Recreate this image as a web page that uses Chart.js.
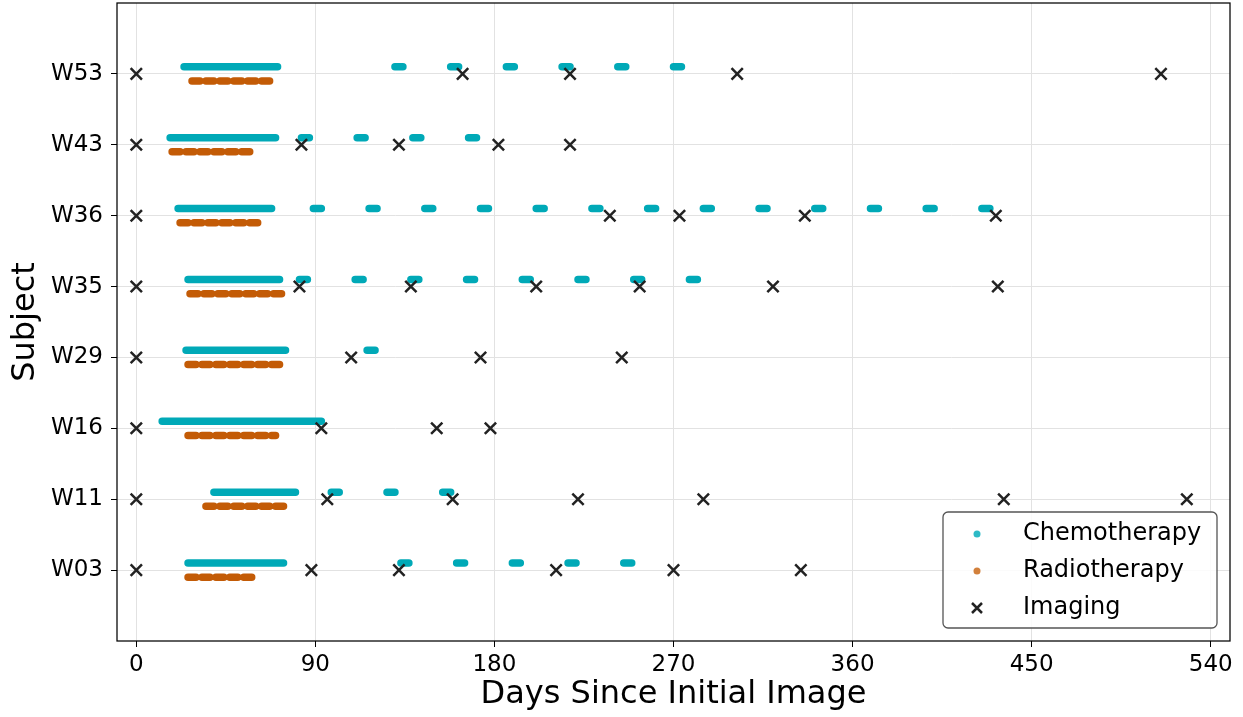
<!DOCTYPE html>
<html>
<head>
<meta charset="utf-8">
<script src="https://cdn.jsdelivr.net/npm/chart.js@4.4.1/dist/chart.umd.min.js"></script>
<style>
  body { margin: 0; background: #fff; }
  canvas { display: block; }
</style>
</head>
<body>
<canvas id="timeline" width="1243" height="717"></canvas>
<script>
// subjects, bottom to top
const subjects = ['W03', 'W11', 'W16', 'W29', 'W35', 'W36', 'W43', 'W53'];

// chemotherapy periods per subject, [first day, last day]
const chemoDays = [
    [[26, 74], [133, 137], [161, 165], [189, 193], [217, 221], [245, 249]],
    [[39, 80], [98, 102], [126, 130], [154, 158]],
    [[13, 93]],
    [[25, 75], [116, 120]],
    [[26, 72], [82, 86], [110, 114], [138, 142], [166, 170], [194, 198], [222, 226], [250, 254], [278, 282]],
    [[21, 68], [89, 93], [117, 121], [145, 149], [173, 177], [201, 205], [229, 233], [257, 261], [285, 289], [313, 317], [341, 345], [369, 373], [397, 401], [425, 429]],
    [[17, 70], [83, 87], [111, 115], [139, 143], [167, 171]],
    [[24, 71], [130, 134], [158, 162], [186, 190], [214, 218], [242, 246], [270, 274]]
];

// radiotherapy weeks per subject, [first day, last day]
const radioDays = [
    [[26, 30], [33, 37], [40, 44], [47, 51], [54, 58]],
    [[35, 39], [42, 46], [49, 53], [56, 60], [63, 67], [70, 74]],
    [[26, 30], [33, 37], [40, 44], [47, 51], [54, 58], [61, 65], [68, 70]],
    [[26, 30], [33, 37], [40, 44], [47, 51], [54, 58], [61, 65], [68, 72]],
    [[27, 31], [34, 38], [41, 45], [48, 52], [55, 59], [62, 66], [69, 73]],
    [[22, 26], [29, 33], [36, 40], [43, 47], [50, 54], [57, 61]],
    [[18, 22], [25, 29], [32, 36], [39, 43], [46, 50], [53, 57]],
    [[28, 32], [35, 39], [42, 46], [49, 53], [56, 60], [63, 67]]
];

// imaging days per subject
const imagingDays = [
    [0, 88, 132, 211, 270, 334],
    [0, 96, 159, 222, 285, 436, 528],
    [0, 93, 151, 178],
    [0, 108, 173, 244],
    [0, 82, 138, 201, 253, 320, 433],
    [0, 238, 273, 336, 432],
    [0, 83, 132, 182, 218],
    [0, 164, 218, 302, 515]
];

const xTicks = [0, 90, 180, 270, 360, 450, 540];

const CHEMO = '#00a9b7';
const RADIO = '#c35b06';
const FONT = 'DejaVu Sans';

// turn [start, end] periods into line pieces, broken by null points
function periodPoints(periods, shift) {
    const pts = [];
    periods.forEach((list, i) => {
        list.forEach(p => {
            pts.push({ x: p[0], y: i + shift });
            pts.push({ x: p[1], y: i + shift });
            pts.push({ x: p[1], y: null });
        });
    });
    return pts;
}

const imagingPoints = [];
imagingDays.forEach((list, i) => list.forEach(d => imagingPoints.push({ x: d, y: i })));

const framePlugin = {
    id: 'frame',
    afterDatasetsDraw(chart) {
        const a = chart.chartArea;
        const ctx = chart.ctx;
        ctx.save();
        ctx.strokeStyle = '#000';
        ctx.lineWidth = 1.25;
        ctx.strokeRect(a.left, a.top, a.right - a.left, a.bottom - a.top);
        ctx.restore();
    }
};

const legendPlugin = {
    id: 'boxLegend',
    afterDraw(chart) {
        const a = chart.chartArea;
        const ctx = chart.ctx;
        const w = 274, h = 116;
        const x = a.right - 13 - w, y = a.bottom - 13 - h;
        ctx.save();
        ctx.beginPath();
        ctx.roundRect(x, y, w, h, 5);
        ctx.fillStyle = 'rgba(255,255,255,0.85)';
        ctx.fill();
        ctx.strokeStyle = '#555';
        ctx.lineWidth = 1.3;
        ctx.stroke();

        const items = [
            { label: 'Chemotherapy', kind: 'dot', color: '#2dbac6' },
            { label: 'Radiotherapy', kind: 'dot', color: '#d2803c' },
            { label: 'Imaging', kind: 'x', color: '#222' }
        ];
        items.forEach((it, k) => {
            const cy = y + 22 + k * 37;
            const cx = x + 34;
            if (it.kind === 'dot') {
                ctx.beginPath();
                ctx.arc(cx, cy, 3.5, 0, Math.PI * 2);
                ctx.fillStyle = it.color;
                ctx.fill();
            } else {
                ctx.beginPath();
                ctx.moveTo(cx - 5, cy - 5); ctx.lineTo(cx + 5, cy + 5);
                ctx.moveTo(cx - 5, cy + 5); ctx.lineTo(cx + 5, cy - 5);
                ctx.strokeStyle = it.color;
                ctx.lineWidth = 2.5;
                ctx.stroke();
            }
            ctx.fillStyle = '#000';
            ctx.font = '24px "' + FONT + '"';
            ctx.textBaseline = 'middle';
            ctx.textAlign = 'left';
            ctx.fillText(it.label, x + 80, cy);
        });
        ctx.restore();
    }
};

new Chart(document.getElementById('timeline'), {
    type: 'scatter',
    data: {
        datasets: [
            {
                label: 'Imaging',
                data: imagingPoints,
                pointStyle: 'crossRot',
                pointRadius: 8,
                pointBorderWidth: 2.5,
                borderColor: '#222',
                backgroundColor: '#222',
                order: 0
            },
            {
                label: 'Radiotherapy',
                data: periodPoints(radioDays, -0.1),
                showLine: true,
                spanGaps: false,
                borderColor: RADIO,
                borderWidth: 7.5,
                borderCapStyle: 'round',
                pointRadius: 0,
                order: 1
            },
            {
                label: 'Chemotherapy',
                data: periodPoints(chemoDays, 0.1),
                showLine: true,
                spanGaps: false,
                borderColor: CHEMO,
                borderWidth: 7.5,
                borderCapStyle: 'round',
                pointRadius: 0,
                order: 2
            }
        ]
    },
    options: {
        responsive: false,
        animation: false,
        devicePixelRatio: 1,
        layout: { autoPadding: false, padding: { top: 3, right: 13, left: 0, bottom: 0 } },
        plugins: {
            legend: { display: false },
            tooltip: { enabled: false }
        },
        scales: {
            x: {
                type: 'linear',
                min: -9.7,
                max: 549.7,
                afterBuildTicks: s => { s.ticks = xTicks.map(v => ({ value: v })); },
                afterFit: s => { s.height = 76; s.paddingLeft = 0; s.paddingRight = 0; },
                ticks: {
                    font: { family: FONT, size: 23 },
                    color: '#000',
                    padding: 4,
                    maxRotation: 0,
                    autoSkip: false
                },
                grid: { color: '#e2e2e2', tickColor: '#000', tickLength: 6 },
                border: { display: false },
                title: {
                    display: true,
                    text: 'Days Since Initial Image',
                    color: '#000',
                    font: { family: FONT, size: 32 },
                    padding: { top: 0, bottom: 3 }
                }
            },
            y: {
                type: 'linear',
                min: -1,
                max: 8,
                afterBuildTicks: s => { s.ticks = subjects.map((n, i) => ({ value: i })); },
                afterFit: s => { s.width = 117; s.paddingTop = 0; s.paddingBottom = 0; },
                ticks: {
                    font: { family: FONT, size: 23 },
                    color: '#000',
                    padding: 8,
                    callback: v => subjects[v]
                },
                grid: { color: '#e2e2e2', tickColor: '#000', tickLength: 6 },
                border: { display: false },
                title: {
                    display: true,
                    text: 'Subject',
                    color: '#000',
                    font: { family: FONT, size: 32 },
                    padding: { top: 6, bottom: 0 }
                }
            }
        }
    },
    plugins: [framePlugin, legendPlugin]
});
</script>
</body>
</html>
